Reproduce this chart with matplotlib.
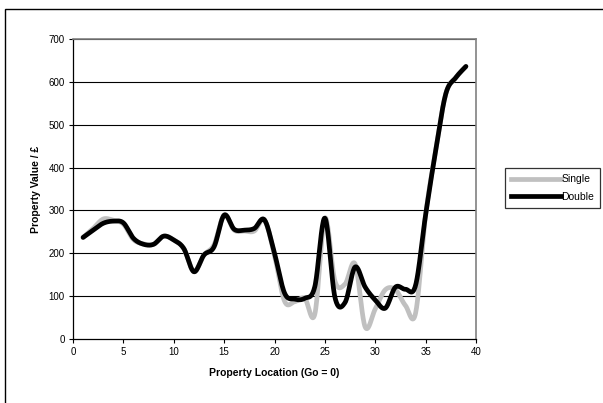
import numpy as np
import matplotlib
matplotlib.use("Agg")
import matplotlib.pyplot as plt
from matplotlib.patches import Rectangle
from matplotlib.lines import Line2D

plt.rcParams['font.family'] = ['Liberation Sans', 'DejaVu Sans']

locations = list(range(1, 40))
single = [237, 258, 280, 277, 268, 232, 222, 221, 240, 231, 211, 157, 196, 220, 289,
          254, 252, 252, 278, 195, 88, 87, 95, 58, 282, 135, 128, 175, 28, 70,
          115, 115, 78, 60, 290, 440, 572, 610, 636]
double = [237, 254, 270, 275, 271, 235, 221, 221, 240, 231, 211, 157, 196, 215, 289,
          256, 254, 258, 278, 200, 107, 93, 95, 122, 282, 97, 85, 168, 121, 91,
          72, 121, 116, 125, 290, 440, 572, 610, 636]
x_ticks = [0, 5, 10, 15, 20, 25, 30, 35, 40]
y_ticks = [0, 100, 200, 300, 400, 500, 600, 700]


def smooth(xs, ys, steps=20):
    """Bezier smoothing through every point, control arms of 1/6 the chord."""
    p = np.column_stack([xs, ys]).astype(float)
    n = len(p)
    out = []
    for i in range(n - 1):
        p0 = p[i - 1] if i > 0 else p[i]
        p1 = p[i]
        p2 = p[i + 1]
        p3 = p[i + 2] if i + 2 < n else p[i + 1]
        c1 = p1 + (p2 - p0) / 6.0
        c2 = p2 - (p3 - p1) / 6.0
        t = np.linspace(0, 1, steps, endpoint=(i == n - 2))[:, None]
        seg = ((1 - t) ** 3) * p1 + 3 * ((1 - t) ** 2) * t * c1 + 3 * (1 - t) * t ** 2 * c2 + t ** 3 * p2
        out.append(seg)
    out = np.vstack(out)
    return out[:, 0], out[:, 1]


fig = plt.figure(figsize=(6.03, 4.03), dpi=100)
W, H = 603, 403

# outer chart frame
fig.patches.append(Rectangle((5 / W, -0.05), 1.1, (H - 9) / H + 0.05,
                             transform=fig.transFigure, fill=False,
                             edgecolor='black', linewidth=1.0))

ax = fig.add_axes([73 / W, (H - 339) / H, (476 - 73) / W, (339 - 39) / H])
ax.set_xlim(0, 40)
ax.set_ylim(0, 700)
ax.set_xticks(x_ticks)
ax.set_yticks(y_ticks)
ax.tick_params(axis='both', direction='out', length=3, width=0.8,
               labelsize=7, colors='black', pad=3)

for y in y_ticks[1:]:
    ax.axhline(y, color='black', linewidth=0.8, zorder=1)

for side in ('top', 'right'):
    ax.spines[side].set_color('#808080')
    ax.spines[side].set_linewidth(1.2)
for side in ('left', 'bottom'):
    ax.spines[side].set_color('black')
    ax.spines[side].set_linewidth(0.9)

sx, sy = smooth(locations, single)
dx, dy = smooth(locations, double)
ax.plot(sx, sy, color='#c0c0c0', linewidth=3.4, solid_capstyle='round', zorder=3)
ax.plot(dx, dy, color='black', linewidth=3.4, solid_capstyle='round', zorder=4)

ax.set_xlabel('Property Location (Go = 0)', fontsize=7.5, fontweight='bold', labelpad=8)
ax.set_ylabel('Property Value / £', fontsize=7.5, fontweight='bold', labelpad=5)

handles = [Line2D([], [], color='#c0c0c0', linewidth=3.4),
           Line2D([], [], color='black', linewidth=3.4)]
leg = fig.legend(handles, ['Single', 'Double'], loc='upper left',
                 bbox_to_anchor=(505 / W, (H - 168) / H), fontsize=7.5,
                 frameon=True, fancybox=False, handlelength=4.8,
                 handletextpad=0.0, borderpad=0.6, labelspacing=0.75,
                 borderaxespad=0)
leg.get_frame().set_edgecolor('black')
leg.get_frame().set_linewidth(0.9)

fig.savefig('out.png', dpi=100)
